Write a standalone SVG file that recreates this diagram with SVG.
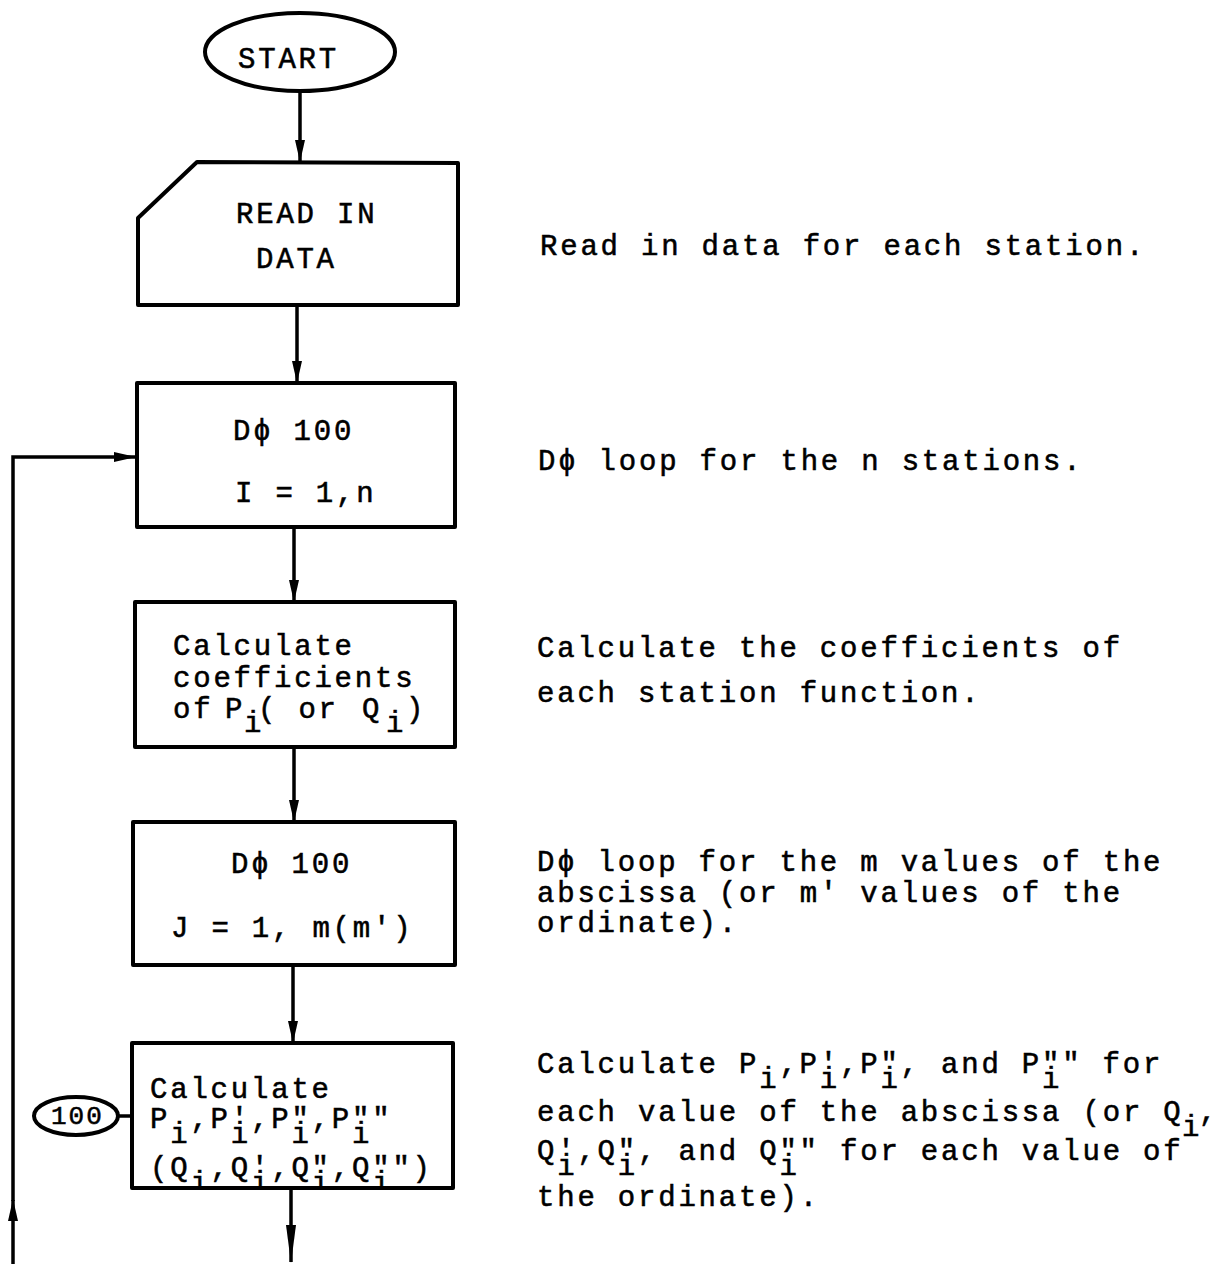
<svg xmlns="http://www.w3.org/2000/svg" width="1217" height="1264" viewBox="0 0 1217 1264">
<style>
.t{font-family:"Liberation Mono","Courier New",monospace;font-size:29px;letter-spacing:2.8px;fill:#000;stroke:#000;stroke-width:0.55px}
.shape{fill:#fff;stroke:#000;stroke-width:4;stroke-linejoin:round}
.ln{fill:none;stroke:#000;stroke-width:3.5}
</style>
<defs>
<marker id="arr" markerUnits="userSpaceOnUse" markerWidth="22" markerHeight="12" refX="21" refY="6" orient="auto"><path d="M0,1 L22,6 L0,11 Z" fill="#000"/></marker>
<marker id="arrL" markerUnits="userSpaceOnUse" markerWidth="38" markerHeight="12" refX="37" refY="6" orient="auto"><path d="M0,1 L38,6 L0,11 Z" fill="#000"/></marker>
<clipPath id="cutB4"><rect x="120" y="1040" width="350" height="146"/></clipPath>
</defs>
<rect x="0" y="0" width="1217" height="1264" fill="#fff"/>

<g id="connectors">
<line class="ln" x1="300" y1="91" x2="300" y2="161" marker-end="url(#arr)"/>
<line class="ln" x1="297" y1="305" x2="297" y2="382" marker-end="url(#arr)"/>
<line class="ln" x1="294" y1="527" x2="294" y2="601" marker-end="url(#arr)"/>
<line class="ln" x1="294" y1="747" x2="294" y2="821" marker-end="url(#arr)"/>
<line class="ln" x1="293" y1="965" x2="293" y2="1042" marker-end="url(#arr)"/>
<line class="ln" x1="291" y1="1188" x2="291" y2="1262" marker-end="url(#arrL)"/>
<line class="ln" x1="13" y1="1264" x2="13" y2="1200" marker-end="url(#arr)"/>
<polyline class="ln" points="13,1201 13,457 135,457" marker-end="url(#arr)"/>
<line class="ln" x1="118" y1="1116" x2="133" y2="1116"/>
</g>

<g id="start">
<ellipse class="shape" cx="300" cy="52" rx="95" ry="39"/>
<text class="t" x="238" y="68">START</text>
</g>

<g id="read-in-data">
<path class="shape" d="M197,162 L458,163 L458,305 L138,305 L138,218 Z"/>
<text class="t" x="236" y="223">READ IN</text>
<text class="t" x="256" y="268">DATA</text>
</g>

<g id="do-i">
<rect class="shape" x="137" y="383" width="318" height="144"/>
<text class="t" x="233" y="440">Dϕ 100</text>
<text class="t" x="235" y="502">I = 1,n</text>
</g>

<g id="calc-coef">
<rect class="shape" x="135" y="602" width="320" height="145"/>
<text class="t" x="173" y="655">Calculate</text>
<text class="t" x="173" y="687">coefficients</text>
<text class="t" x="173" y="718">of<tspan x="225">P</tspan><tspan x="244" y="732">i</tspan><tspan x="258" y="718">( or</tspan><tspan x="362">Q</tspan><tspan x="386" y="732">i</tspan><tspan x="406" y="718">)</tspan></text>
</g>

<g id="do-j">
<rect class="shape" x="133" y="822" width="322" height="143"/>
<text class="t" x="231" y="873">Dϕ 100</text>
<text class="t" x="171" y="937">J = 1, m(m')</text>
</g>

<g id="calc-p">
<rect class="shape" x="132" y="1043" width="321" height="145"/>
<text class="t" x="150" y="1098">Calculate</text>
<text class="t" x="150" y="1128">P<tspan x="170.2" y="1143">i</tspan><tspan x="190.4" y="1128">,P'</tspan><tspan x="230.8" y="1143">i</tspan><tspan x="251" y="1128">,P"</tspan><tspan x="291.4" y="1143">i</tspan><tspan x="311.6" y="1128">,P"</tspan><tspan x="352" y="1143">i</tspan><tspan x="372.2" y="1128">"</tspan></text>
<g clip-path="url(#cutB4)">
<text class="t" x="150" y="1177">(Q<tspan x="190.4" y="1192">i</tspan><tspan x="210.6" y="1177">,Q'</tspan><tspan x="251" y="1192">i</tspan><tspan x="271.2" y="1177">,Q"</tspan><tspan x="311.6" y="1192">i</tspan><tspan x="331.8" y="1177">,Q"</tspan><tspan x="372.2" y="1192">i</tspan><tspan x="392.4" y="1177">")</tspan></text>
</g>
</g>

<g id="conn-100">
<ellipse class="shape" cx="76" cy="1116" rx="42" ry="19"/>
<text class="t" x="51" y="1124" style="font-size:26px;letter-spacing:2px">100</text>
</g>

<g id="notes">
<text class="t" x="540" y="255">Read in data for each station.</text>
<text class="t" x="538" y="470">Dϕ loop for the n stations.</text>
<text class="t" x="537" y="657">Calculate the coefficients of</text>
<text class="t" x="537" y="702">each station function.</text>
<text class="t" x="537" y="871">Dϕ loop for the m values of the</text>
<text class="t" x="537" y="902">abscissa (or m' values of the</text>
<text class="t" x="537" y="932">ordinate).</text>
<text class="t" x="537" y="1073">Calculate P<tspan x="759.2" y="1088">i</tspan><tspan x="779.4" y="1073">,P'</tspan><tspan x="819.8" y="1088">i</tspan><tspan x="840" y="1073">,P"</tspan><tspan x="880.4" y="1088">i</tspan><tspan x="900.6" y="1073">, and P"</tspan><tspan x="1042" y="1088">i</tspan><tspan x="1062.2" y="1073">" for</tspan></text>
<text class="t" x="537" y="1121">each value of the abscissa (or Q<tspan x="1182" y="1136">i</tspan><tspan x="1199" y="1121">,</tspan></text>
<text class="t" x="537" y="1160">Q'<tspan x="557.2" y="1175">i</tspan><tspan x="577.4" y="1160">,Q"</tspan><tspan x="617.8" y="1175">i</tspan><tspan x="638" y="1160">, and Q"</tspan><tspan x="779.4" y="1175">i</tspan><tspan x="799.6" y="1160">" for each value of</tspan></text>
<text class="t" x="537" y="1206">the ordinate).</text>
</g>
</svg>
